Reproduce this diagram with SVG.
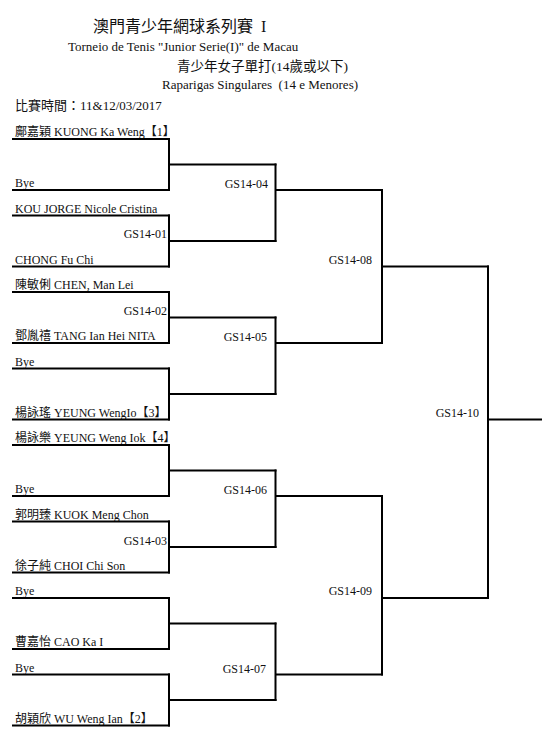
<svg xmlns="http://www.w3.org/2000/svg" width="555" height="742" viewBox="0 0 555 742">
<style>
text{font-family:"Liberation Serif","Noto Sans CJK TC",serif;fill:#111}
.t{font-size:12px}
.m{font-size:12px;text-anchor:end}
.ln{stroke:#000;stroke-width:2;fill:none;stroke-linecap:square}
</style>
<rect width="555" height="742" fill="#fff"/>
<g id="header">
<text x="93" y="32" font-size="16" xml:space="preserve">澳門青少年網球系列賽  I</text>
<text x="68" y="51" font-size="13">Torneio de Tenis "Junior Serie(I)" de Macau</text>
<text x="177" y="71" font-size="13.5">青少年女子單打(14歲或以下)</text>
<text x="162" y="89" font-size="13" xml:space="preserve">Raparigas Singulares  (14 e Menores)</text>
<text x="15" y="110" font-size="13">比賽時間：11&amp;12/03/2017</text>
</g>
<g id="players">
<g id="p1"><text class="t" x="15" y="136">鄺嘉穎 KUONG Ka Weng【1】</text><line class="ln" x1="13" y1="139" x2="169" y2="139"/></g>
<g id="p2"><text class="t" x="15" y="187">Bye</text><line class="ln" x1="13" y1="190" x2="169" y2="190"/></g>
<g id="p3"><text class="t" x="15" y="212.5">KOU JORGE Nicole Cristina</text><line class="ln" x1="13" y1="215.5" x2="169" y2="215.5"/></g>
<g id="p4"><text class="t" x="15" y="263.5">CHONG Fu Chi</text><line class="ln" x1="13" y1="266.5" x2="169" y2="266.5"/></g>
<g id="p5"><text class="t" x="15" y="289">陳敏俐 CHEN, Man Lei</text><line class="ln" x1="13" y1="292" x2="169" y2="292"/></g>
<g id="p6"><text class="t" x="15" y="340">鄧胤禧 TANG Ian Hei NITA</text><line class="ln" x1="13" y1="343" x2="169" y2="343"/></g>
<g id="p7"><text class="t" x="15" y="365.5">Bye</text><line class="ln" x1="13" y1="368.5" x2="169" y2="368.5"/></g>
<g id="p8"><text class="t" x="15" y="416.5">楊詠瑤 YEUNG WengIo【3】</text><line class="ln" x1="13" y1="419.5" x2="169" y2="419.5"/></g>
<g id="p9"><text class="t" x="15" y="442">楊詠樂 YEUNG Weng Iok【4】</text><line class="ln" x1="13" y1="445" x2="169" y2="445"/></g>
<g id="p10"><text class="t" x="15" y="493">Bye</text><line class="ln" x1="13" y1="496" x2="169" y2="496"/></g>
<g id="p11"><text class="t" x="15" y="518.5">郭明臻 KUOK Meng Chon</text><line class="ln" x1="13" y1="521.5" x2="169" y2="521.5"/></g>
<g id="p12"><text class="t" x="15" y="569.5">徐子純 CHOI Chi Son</text><line class="ln" x1="13" y1="572.5" x2="169" y2="572.5"/></g>
<g id="p13"><text class="t" x="15" y="595">Bye</text><line class="ln" x1="13" y1="598" x2="169" y2="598"/></g>
<g id="p14"><text class="t" x="15" y="646">曹嘉怡 CAO Ka I</text><line class="ln" x1="13" y1="649" x2="169" y2="649"/></g>
<g id="p15"><text class="t" x="15" y="671.5">Bye</text><line class="ln" x1="13" y1="674.5" x2="169" y2="674.5"/></g>
<g id="p16"><text class="t" x="15" y="722.5">胡穎欣 WU Weng Ian【2】</text><line class="ln" x1="13" y1="725.5" x2="169" y2="725.5"/></g>
</g>
<g id="matches">
<g id="GS14-01"><text class="m" x="167" y="238">GS14-01</text></g>
<g id="GS14-02"><text class="m" x="167" y="315">GS14-02</text></g>
<g id="GS14-03"><text class="m" x="167" y="544.5">GS14-03</text></g>
<g id="GS14-04"><text class="m" x="268" y="188">GS14-04</text></g>
<g id="GS14-05"><text class="m" x="267" y="341">GS14-05</text></g>
<g id="GS14-06"><text class="m" x="267" y="494">GS14-06</text></g>
<g id="GS14-07"><text class="m" x="266" y="673">GS14-07</text></g>
<g id="GS14-08"><text class="m" x="372" y="264">GS14-08</text></g>
<g id="GS14-09"><text class="m" x="372" y="595">GS14-09</text></g>
<g id="GS14-10"><text class="m" x="479" y="417">GS14-10</text></g>
</g>
<g id="connectors" class="ln">
<path class="ln" d="M169 139V190M169 164.5H275.5"/>
<path class="ln" d="M169 215.5V266.5M169 241H275.5"/>
<path class="ln" d="M169 292V343M169 317.5H275.5"/>
<path class="ln" d="M169 368.5V419.5M169 394H275.5"/>
<path class="ln" d="M169 445V496M169 470.5H275.5"/>
<path class="ln" d="M169 521.5V572.5M169 547H275.5"/>
<path class="ln" d="M169 598V649M169 623.5H275.5"/>
<path class="ln" d="M169 674.5V725.5M169 700H275.5"/>
<path class="ln" d="M275.5 164.5V241M275.5 190H382"/>
<path class="ln" d="M275.5 317.5V394M275.5 343H382"/>
<path class="ln" d="M275.5 470.5V547M275.5 496H382"/>
<path class="ln" d="M275.5 623.5V700M275.5 674.5H382"/>
<path class="ln" d="M382 190V343M382 266.5H488"/>
<path class="ln" d="M382 496V674.5M382 598H488"/>
<path class="ln" d="M488 266.5V598M488 419.5H541"/>
</g>
</svg>
